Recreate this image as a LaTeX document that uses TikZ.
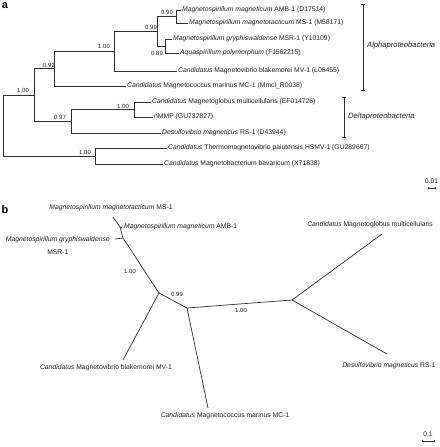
\documentclass[tikz,border=0pt]{standalone}
\usepackage{fontspec}
\setmainfont{Liberation Sans}
\begin{document}
\begin{tikzpicture}[x=1pt,y=-1pt,
  branch/.style={draw=black!82, line width=0.7pt},
  leaf/.style={font=\fontsize{6.8}{8}\selectfont, text=black!88, inner sep=1pt, anchor=west},
  lbl/.style={font=\fontsize{6.8}{8}\selectfont, text=black!88, inner sep=1pt},
  supp/.style={font=\fontsize{6}{7}\selectfont, text=black!88, inner sep=0.5pt},
  grp/.style={font=\fontsize{7.6}{9}\selectfont\itshape, text=black!88, inner sep=1pt, anchor=west},
  panel/.style={font=\fontsize{11}{12}\selectfont\bfseries, inner sep=0pt}]
\useasboundingbox (0,0) rectangle (439,447);

% ---------- panel a ----------
\node[panel] (pa) at (5,6) {a};

\coordinate (R) at (3,125.5);
\coordinate (A) at (34,95);
\coordinate (B) at (54,68.5);
\coordinate (C) at (114,51);
\coordinate (D) at (157,31.5);
\coordinate (E) at (176,16.5);
\coordinate (F) at (165,46);
\coordinate (G) at (134,109.5);
\coordinate (H) at (71,121);
\coordinate (O) at (95,156);

\node[leaf] (l1) at (181,10) {\textit{Magnetospirillum magneticum} AMB-1 (D17514)};
\node[leaf] (l2) at (188,23) {\textit{Magnetospirillum magnetotacticum} MS-1 (M58171)};
\node[leaf] (l3) at (172,39) {\textit{Magnetospirillum gryphiswaldense} MSR-1 (Y10109)};
\node[leaf] (l4) at (179,53) {\textit{Aquaspirillum polymorphum} (FJ562215)};
\node[leaf] (l5) at (177,71) {\textit{Candidatus} Magnetovibrio blakemorei MV-1 (L06455)};
\node[leaf] (l6) at (126,86) {\textit{Candidatus} Magnetococcus marinus MC-1 (Mmcl\_R0038)};
\node[leaf] (l7) at (151,102) {\textit{Candidatus} Magnetoglobus multicellularis (EF014726)};
\node[leaf] (l8) at (153,117) {nMMP (GU732827)};
\node[leaf] (l9) at (161,133) {\textit{Desulfovibrio magneticus} RS-1 (D43944)};
\node[leaf] (l10) at (167,148) {\textit{Candidatus} Thermomagnetovibrio paiutensis HSMV-1 (GU289667)};
\node[leaf] (l11) at (163,164) {\textit{Candidatus} Magnetobacterium bavaricum (X71838)};

\draw[branch] (R) |- (A);
\draw[branch] (R) |- (O);
\draw[branch] (A) |- (B);
\draw[branch] (A) |- (H);
\draw[branch] (B) |- (C);
\draw[branch] (B) |- (l6.west);
\draw[branch] (C) |- (D);
\draw[branch] (C) |- (l5.west);
\draw[branch] (D) |- (E);
\draw[branch] (D) |- (F);
\draw[branch] (E) |- (l1.west);
\draw[branch] (E) |- (l2.west);
\draw[branch] (F) |- (l3.west);
\draw[branch] (F) |- (l4.west);
\draw[branch] (H) |- (G);
\draw[branch] (H) |- (l9.west);
\draw[branch] (G) |- (l7.west);
\draw[branch] (G) |- (l8.west);
\draw[branch] (O) |- (l10.west);
\draw[branch] (O) |- (l11.west);

\node[supp] (sE) at (167,12) {0.99};
\node[supp] (sD) at (151,27) {0.99};
\node[supp] (sC) at (104,46) {1.00};
\node[supp] (sF) at (157,53) {0.89};
\node[supp] (sB) at (49,65) {0.92};
\node[supp] (sA) at (23,90) {1.00};
\node[supp] (sG) at (123,106) {1.00};
\node[supp] (sH) at (60,117) {0.97};
\node[supp] (sO) at (85,152) {1.00};

% group brackets
\coordinate (alT) at (363,4);
\coordinate (alB) at (363,90);
\draw[branch] (alT) -- (alB);
\draw[branch] ([xshift=-2pt]alT) -- ([xshift=2pt]alT);
\draw[branch] ([xshift=-2pt]alB) -- ([xshift=2pt]alB);
\node[grp] (alpha) at (366,46) {Alphaproteobacteria};
\coordinate (dlT) at (344,97);
\coordinate (dlB) at (344,137);
\draw[branch] (dlT) -- (dlB);
\draw[branch] ([xshift=-2pt]dlT) -- ([xshift=2pt]dlT);
\draw[branch] ([xshift=-2pt]dlB) -- ([xshift=2pt]dlB);
\node[grp] (delta) at (347,117) {Deltaproteobacteria};

% scale bar a
\node[lbl] (sca) at (431.5,181) {0.01};
\coordinate (scaL) at (428.5,188);
\coordinate (scaR) at (435,188);
\draw[branch] (scaL) -- (scaR);
\draw[branch] ([yshift=-1.2pt]scaL) -- ([yshift=1.2pt]scaL);
\draw[branch] ([yshift=-1.2pt]scaR) -- ([yshift=1.2pt]scaR);

% ---------- panel b ----------
\node[panel] (pb) at (5,210) {b};

\coordinate (n2) at (120,227);
\coordinate (n1) at (123,238);
\coordinate (n0) at (159,293);
\coordinate (n3) at (187,308);
\coordinate (n4) at (292,300);
\coordinate (eMS) at (113,217);
\coordinate (eAMB) at (122,228);
\coordinate (eMSR) at (115,239);
\coordinate (eMV) at (123,360);
\coordinate (eMC) at (208,408);
\coordinate (eMG) at (382,234);
\coordinate (eDS) at (387,354);

\draw[branch] (eMS) -- (n2) -- (n1) -- (n0) -- (n3) -- (n4);
\draw[branch] (n2) -- (eAMB);
\draw[branch] (eMSR) -- (n1);
\draw[branch] (n0) -- (eMV);
\draw[branch] (n3) -- (eMC);
\draw[branch] (n4) -- (eMG);
\draw[branch] (n4) -- (eDS);

\node[lbl] (bMS) at (111,208) {\textit{Magnetospirillum magnetotacticum} MS-1};
\node[lbl, anchor=west] (bAMB) at (123,227) {\textit{Magnetospirillum magneticum} AMB-1};
\node[lbl, anchor=east, align=center, font=\fontsize{6.8}{13}\selectfont] (bMSR) at (111,245.5) {\textit{Magnetospirillum gryphiswaldense}\\MSR-1};
\node[lbl] (bMV) at (106,368) {\textit{Candidatus} Magnetovibrio blakemorei MV-1};
\node[lbl] (bMC) at (225,416) {\textit{Candidatus} Magnetococcus marinus MC-1};
\node[lbl] (bMG) at (370,225) {\textit{Candidatus} Magnetoglobus multicellularis};
\node[lbl] (bDS) at (389,366) {\textit{Desulfovibrio magneticus} RS-1};

\node[supp] (s1) at (130,271) {1.00};
\node[supp] (s2) at (177,294) {0.99};
\node[supp] (s3) at (241,310) {1.00};

% scale bar b
\node[lbl] (scb) at (428,434) {0.1};
\coordinate (scbL) at (422,441);
\coordinate (scbR) at (434,441);
\draw[branch] (scbL) -- (scbR);
\draw[branch] ([yshift=-1.2pt]scbL) -- ([yshift=1.2pt]scbL);
\draw[branch] ([yshift=-1.2pt]scbR) -- ([yshift=1.2pt]scbR);
\end{tikzpicture}
\end{document}
